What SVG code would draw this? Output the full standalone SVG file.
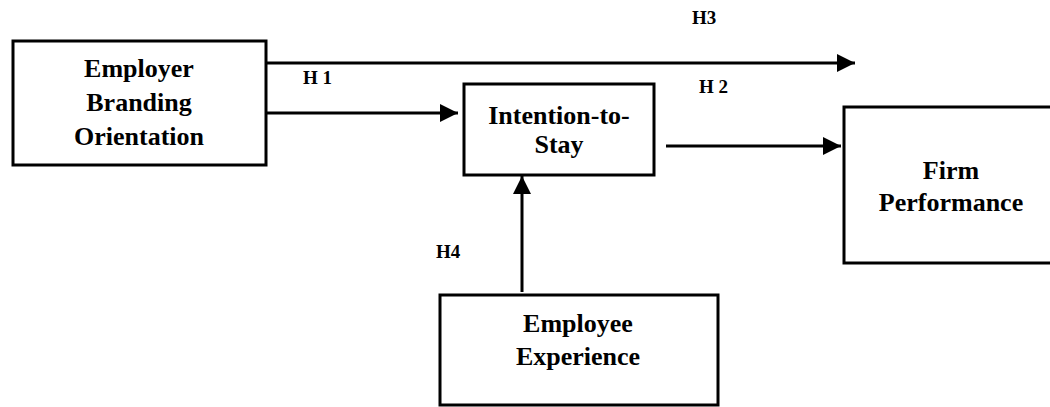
<svg xmlns="http://www.w3.org/2000/svg" width="1050" height="407" viewBox="0 0 1050 407">
<style>
.box{fill:#fff;stroke:#000;stroke-width:3}
.t{font-family:"Liberation Serif","Times New Roman",serif;font-weight:bold;font-size:26px;fill:#000;text-anchor:middle}
.h{font-family:"Liberation Serif","Times New Roman",serif;font-weight:bold;font-size:19px;fill:#000}
.c{stroke:#000;stroke-width:3;fill:none;marker-end:url(#ah)}
</style>
<defs>
<marker id="ah" markerWidth="6" markerHeight="6" refX="5" refY="2.5" orient="auto" markerUnits="strokeWidth" viewBox="0 0 5 5">
<path d="M0,0 L5,2.5 L0,5 z" fill="#000"/>
</marker>
</defs>
<rect width="1050" height="407" fill="#fff"/>
<g id="connectors">
<line class="c" x1="260" y1="63" x2="855" y2="63"/>
<line class="c" x1="260" y1="113" x2="458" y2="113"/>
<line class="c" x1="666" y1="146" x2="841" y2="146"/>
<line class="c" x1="522" y1="292" x2="522" y2="176"/>
</g>
<g id="employer">
<rect class="box" x="13" y="41" width="253" height="124"/>
<text class="t" x="139" y="77">Employer</text>
<text class="t" x="139" y="111">Branding</text>
<text class="t" x="139" y="145">Orientation</text>
</g>
<g id="intention">
<rect class="box" x="464" y="84" width="190" height="91"/>
<text class="t" x="559" y="124">Intention-to-</text>
<text class="t" x="559" y="153">Stay</text>
</g>
<g id="firm">
<rect class="box" x="844" y="107" width="220" height="156"/>
<text class="t" x="951" y="179">Firm</text>
<text class="t" x="951" y="211">Performance</text>
</g>
<g id="employee">
<rect class="box" x="440" y="295" width="278" height="110"/>
<text class="t" x="578" y="332">Employee</text>
<text class="t" x="578" y="365">Experience</text>
</g>
<g id="labels">
<text class="h" x="692" y="24">H3</text>
<text class="h" x="303" y="84">H 1</text>
<text class="h" x="699" y="93">H 2</text>
<text class="h" x="436" y="258">H4</text>
</g>
</svg>
